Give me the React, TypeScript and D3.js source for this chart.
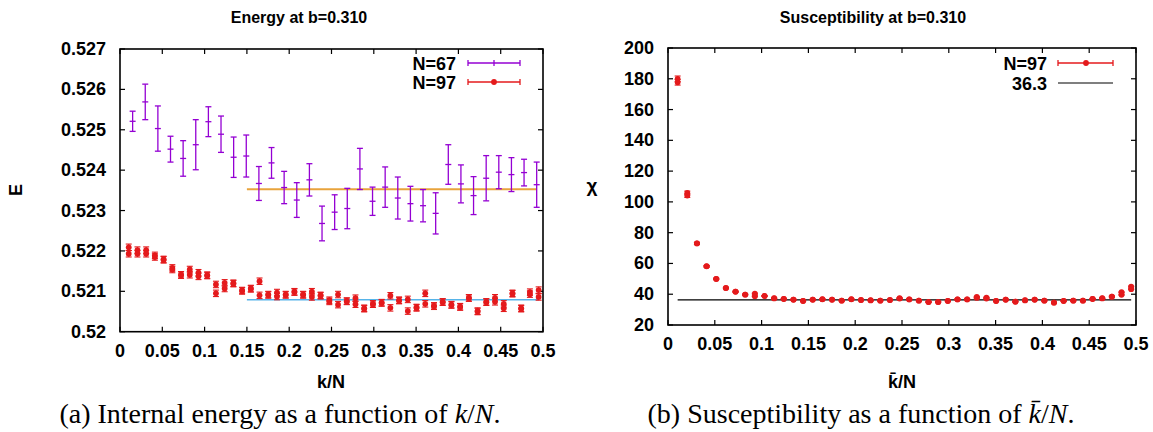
import * as d3 from "d3";

// ---- data: left panel, energy at b=0.310 ----
const N67 = 67;
const k67 = d3.range(1, 34);
const e67 = [
  0.52521, 0.52569, 0.52503, 0.52452, 0.52429, 0.52463, 0.5252, 0.52489, 0.52432, 0.52435,
  0.52367, 0.52418, 0.52357, 0.52326, 0.52376, 0.52268, 0.52296, 0.52305, 0.52403, 0.52323,
  0.52358, 0.52331, 0.52317, 0.52312, 0.52293, 0.52414, 0.52366, 0.52337, 0.5238, 0.52395,
  0.52389, 0.52394, 0.52364,
];
const e67Err = [
  0.00025, 0.00044, 0.00056, 0.00032, 0.00044, 0.00062, 0.00037, 0.00045, 0.0005, 0.00052,
  0.00042, 0.00038, 0.0004, 0.00043, 0.0004, 0.00043, 0.00043, 0.0005, 0.00051, 0.00035,
  0.0005, 0.00052, 0.00043, 0.0004, 0.00051, 0.00049, 0.00047, 0.00047, 0.00056, 0.00041,
  0.00042, 0.00033, 0.00056,
];

const N97 = 97;
const k97 = d3.range(1, 49);
// two measurements per k (k and N-k)
const e97a = [
  0.52209, 0.52202, 0.52202, 0.52189, 0.52179, 0.52158, 0.52141, 0.52154, 0.52146, 0.5214,
  0.52117, 0.52121, 0.5212, 0.52102, 0.52107, 0.52125, 0.52092, 0.52097, 0.52092, 0.52099,
  0.52092, 0.52099, 0.5209, 0.52078, 0.52092, 0.52076, 0.52083, 0.52058, 0.52069, 0.52072,
  0.52089, 0.52078, 0.5208, 0.5206, 0.52095, 0.52064, 0.52074, 0.52067, 0.52062, 0.52084,
  0.52051, 0.52074, 0.52084, 0.52069, 0.52095, 0.52058, 0.52098, 0.52103,
];
const e97b = [
  0.52193, 0.52193, 0.52193, 0.52185, 0.52178, 0.52154, 0.5214, 0.52141, 0.52137, 0.52139,
  0.52095, 0.52107, 0.52119, 0.52101, 0.52106, 0.5209, 0.52091, 0.52087, 0.52091, 0.52098,
  0.52091, 0.52086, 0.52089, 0.52075, 0.52067, 0.52075, 0.52068, 0.52057, 0.52068, 0.52071,
  0.52059, 0.52077, 0.52051, 0.52059, 0.52069, 0.52063, 0.52073, 0.52066, 0.52061, 0.52083,
  0.5205, 0.52073, 0.52074, 0.52058, 0.52094, 0.52057, 0.52093, 0.52086,
];
const e97Err = 0.00008;

const fit67 = 0.52353;
const fit97 = 0.52079;

// ---- data: right panel, susceptibility ----
const chiA = [
  180.0, 105.8, 73.1, 58.2, 50.0, 44.1, 41.7, 39.8, 40.4, 38.9,
  37.4, 37.0, 36.5, 35.7, 36.5, 36.8, 36.5, 35.9, 36.8, 36.3,
  36.1, 35.9, 36.3, 37.4, 36.7, 35.9, 35.0, 35.0, 35.7, 36.7,
  36.7, 38.3, 37.8, 35.7, 36.5, 35.2, 36.1, 36.5, 35.9, 34.6,
  35.7, 35.9, 35.9, 37.0, 37.4, 38.5, 41.3, 45.0,
];
const chiB = [
  177.7, 104.1, 73.0, 58.1, 49.9, 44.0, 41.6, 39.7, 38.7, 38.8,
  37.3, 36.9, 36.4, 35.6, 36.4, 36.7, 36.4, 35.8, 36.7, 36.2,
  36.0, 35.8, 36.2, 37.2, 36.6, 35.8, 34.9, 34.9, 35.6, 36.6,
  36.6, 37.6, 37.2, 35.6, 36.4, 35.1, 36.0, 36.4, 35.8, 34.5,
  35.6, 35.8, 35.8, 36.9, 37.3, 38.4, 39.6, 43.3,
];
const chiErr = [1.8, 1.2, 0.6, 0.5, 0.4, 0.4, 0.3, 0.3, 0.3, 0.3];
const chiFit = 36.3;

const xTicks = [0, 0.05, 0.1, 0.15, 0.2, 0.25, 0.3, 0.35, 0.4, 0.45, 0.5];
const eTicks = [0.52, 0.521, 0.522, 0.523, 0.524, 0.525, 0.526, 0.527];
const chiTicks = [20, 40, 60, 80, 100, 120, 140, 160, 180, 200];

const PURPLE = "#9400d3";
const RED = "#e41a1c";
const ORANGE = "#e8a33c";
const BLUE = "#56b4e9";
const SANS = "'Liberation Sans', Arial, Helvetica, sans-serif";
const SERIF = "'Liberation Serif', 'Times New Roman', serif";

const fmtX = (v: number) => (v === 0 ? "0" : String(+v.toFixed(2)));

function Frame({ x, y, xt, yt, yFmt }: any) {
  const [x0, x1] = x.range();
  const [y0, y1] = y.range();
  const tl = 5;
  return (
    <g>
      {xt.map((t: number) => (
        <g key={"x" + t}>
          <line x1={x(t)} x2={x(t)} y1={y0} y2={y0 - tl} stroke="#000" strokeWidth={1.2} />
          <line x1={x(t)} x2={x(t)} y1={y1} y2={y1 + tl} stroke="#000" strokeWidth={1.2} />
          <text x={x(t)} y={y0 + 25} textAnchor="middle" fontSize={18} fontWeight="bold" fontFamily={SANS}>
            {fmtX(t)}
          </text>
        </g>
      ))}
      {yt.map((t: number) => (
        <g key={"y" + t}>
          <line x1={x0} x2={x0 + tl} y1={y(t)} y2={y(t)} stroke="#000" strokeWidth={1.2} />
          <line x1={x1} x2={x1 - tl} y1={y(t)} y2={y(t)} stroke="#000" strokeWidth={1.2} />
          <text x={x0 - 14} y={y(t) + 6} textAnchor="end" fontSize={18} fontWeight="bold" fontFamily={SANS}>
            {yFmt(t)}
          </text>
        </g>
      ))}
      <rect x={x0} y={y1} width={x1 - x0} height={y0 - y1} fill="none" stroke="#000" strokeWidth={1.6} />
    </g>
  );
}

function ErrBar({ cx, y, v, err, color, cap = 3, w = 1.3 }: any) {
  return (
    <g stroke={color} strokeWidth={w}>
      <line x1={cx} x2={cx} y1={y(v - err)} y2={y(v + err)} />
      <line x1={cx - cap} x2={cx + cap} y1={y(v - err)} y2={y(v - err)} />
      <line x1={cx - cap} x2={cx + cap} y1={y(v + err)} y2={y(v + err)} />
    </g>
  );
}

function EnergyPanel() {
  const x = d3.scaleLinear().domain([0, 0.5]).range([120, 543]);
  const y = d3.scaleLinear().domain([0.52, 0.527]).range([331.7, 49]);
  return (
    <g>
      <text x={299} y={23} textAnchor="middle" fontSize={16} fontWeight="bold" fontFamily={SANS}>
        Energy at b=0.310
      </text>
      <Frame x={x} y={y} xt={xTicks} yt={eTicks} yFmt={(t: number) => String(+t.toFixed(3))} />
      {/* fit lines */}
      <line x1={x(0.15)} x2={x(33 / N67)} y1={y(fit67)} y2={y(fit67)} stroke={ORANGE} strokeWidth={2} />
      <line x1={x(0.15)} x2={x(48 / N97)} y1={y(fit97)} y2={y(fit97)} stroke={BLUE} strokeWidth={1.5} />
      {/* N=67 */}
      {k67.map((k, i) => {
        const cx = x(k / N67);
        const cy = y(e67[i]);
        return (
          <g key={"p" + k}>
            <ErrBar cx={cx} y={y} v={e67[i]} err={e67Err[i]} color={PURPLE} />
            <line x1={cx - 3} x2={cx + 3} y1={cy} y2={cy} stroke={PURPLE} strokeWidth={1.3} />
          </g>
        );
      })}
      {/* N=97 */}
      {k97.map((k, i) => {
        const cx = x(k / N97);
        return (
          <g key={"r" + k}>
            {[e97a[i], e97b[i]].map((v, j) => (
              <g key={j}>
                <ErrBar cx={cx} y={y} v={v} err={e97Err} color={RED} w={1.1} />
                <circle cx={cx} cy={y(v)} r={2.9} fill={RED} />
              </g>
            ))}
          </g>
        );
      })}
      {/* legend */}
      <text x={456} y={70} textAnchor="end" fontSize={18} fontWeight="bold" fontFamily={SANS}>N=67</text>
      <text x={456} y={89} textAnchor="end" fontSize={18} fontWeight="bold" fontFamily={SANS}>N=97</text>
      <g stroke={PURPLE} strokeWidth={1.3}>
        <line x1={468} x2={520} y1={63} y2={63} />
        <line x1={468} x2={468} y1={60} y2={66} />
        <line x1={520} x2={520} y1={60} y2={66} />
        <line x1={494} x2={494} y1={60} y2={66} />
      </g>
      <g stroke={RED} strokeWidth={1.3}>
        <line x1={468} x2={520} y1={82} y2={82} />
        <line x1={468} x2={468} y1={79} y2={85} />
        <line x1={520} x2={520} y1={79} y2={85} />
      </g>
      <circle cx={494} cy={82} r={2.9} fill={RED} />
      <text x={331} y={388} textAnchor="middle" fontSize={18} fontWeight="bold" fontFamily={SANS}>k/N</text>
      <text transform="translate(22,190) rotate(-90)" textAnchor="middle" fontSize={18} fontWeight="bold" fontFamily={SANS}>E</text>
    </g>
  );
}

function ChiPanel() {
  const x = d3.scaleLinear().domain([0, 0.5]).range([668, 1136]);
  const y = d3.scaleLinear().domain([20, 200]).range([325, 48]);
  return (
    <g>
      <text x={873} y={23} textAnchor="middle" fontSize={16} fontWeight="bold" fontFamily={SANS}>
        Susceptibility at b=0.310
      </text>
      <Frame x={x} y={y} xt={xTicks} yt={chiTicks} yFmt={(t: number) => String(t)} />
      <line x1={x(1 / N97)} x2={x(48 / N97)} y1={y(chiFit)} y2={y(chiFit)} stroke="#000" strokeWidth={1.2} />
      {k97.map((k, i) => {
        const cx = x(k / N97);
        const err = chiErr[i] ?? 0.3;
        return (
          <g key={"c" + k}>
            {[chiA[i], chiB[i]].map((v, j) => (
              <g key={j}>
                <ErrBar cx={cx} y={y} v={v} err={err} color={RED} w={1.1} />
                <circle cx={cx} cy={y(v)} r={2.9} fill={RED} />
              </g>
            ))}
          </g>
        );
      })}
      <text x={1047} y={70} textAnchor="end" fontSize={18} fontWeight="bold" fontFamily={SANS}>N=97</text>
      <text x={1047} y={90} textAnchor="end" fontSize={18} fontWeight="bold" fontFamily={SANS}>36.3</text>
      <g stroke={RED} strokeWidth={1.3}>
        <line x1={1058} x2={1113} y1={63} y2={63} />
        <line x1={1058} x2={1058} y1={60} y2={66} />
        <line x1={1113} x2={1113} y1={60} y2={66} />
      </g>
      <circle cx={1086} cy={63} r={2.9} fill={RED} />
      <line x1={1058} x2={1113} y1={83} y2={83} stroke="#000" strokeWidth={1.2} />
      <text x={902} y={388} textAnchor="middle" fontSize={18} fontWeight="bold" fontFamily={SANS}>k̄/N</text>
      <text x={592} y={192} textAnchor="middle" fontSize={19} fontWeight="bold" fontFamily={SANS}>χ</text>
    </g>
  );
}

export default function App() {
  return (
    <svg width={1153} height={432} style={{ position: "absolute", left: 0, top: 0, background: "#fff" }}>
      <rect width={1153} height={432} fill="#fff" />
      <EnergyPanel />
      <ChiPanel />
      <text x={280} y={423} textAnchor="middle" fontSize={28} fontFamily={SERIF}>
        (a) Internal energy as a function of <tspan fontStyle="italic">k</tspan>/<tspan fontStyle="italic">N</tspan>.
      </text>
      <text x={861} y={423} textAnchor="middle" fontSize={28} fontFamily={SERIF}>
        (b) Susceptibility as a function of <tspan fontStyle="italic">k̄</tspan>/<tspan fontStyle="italic">N</tspan>.
      </text>
    </svg>
  );
}
